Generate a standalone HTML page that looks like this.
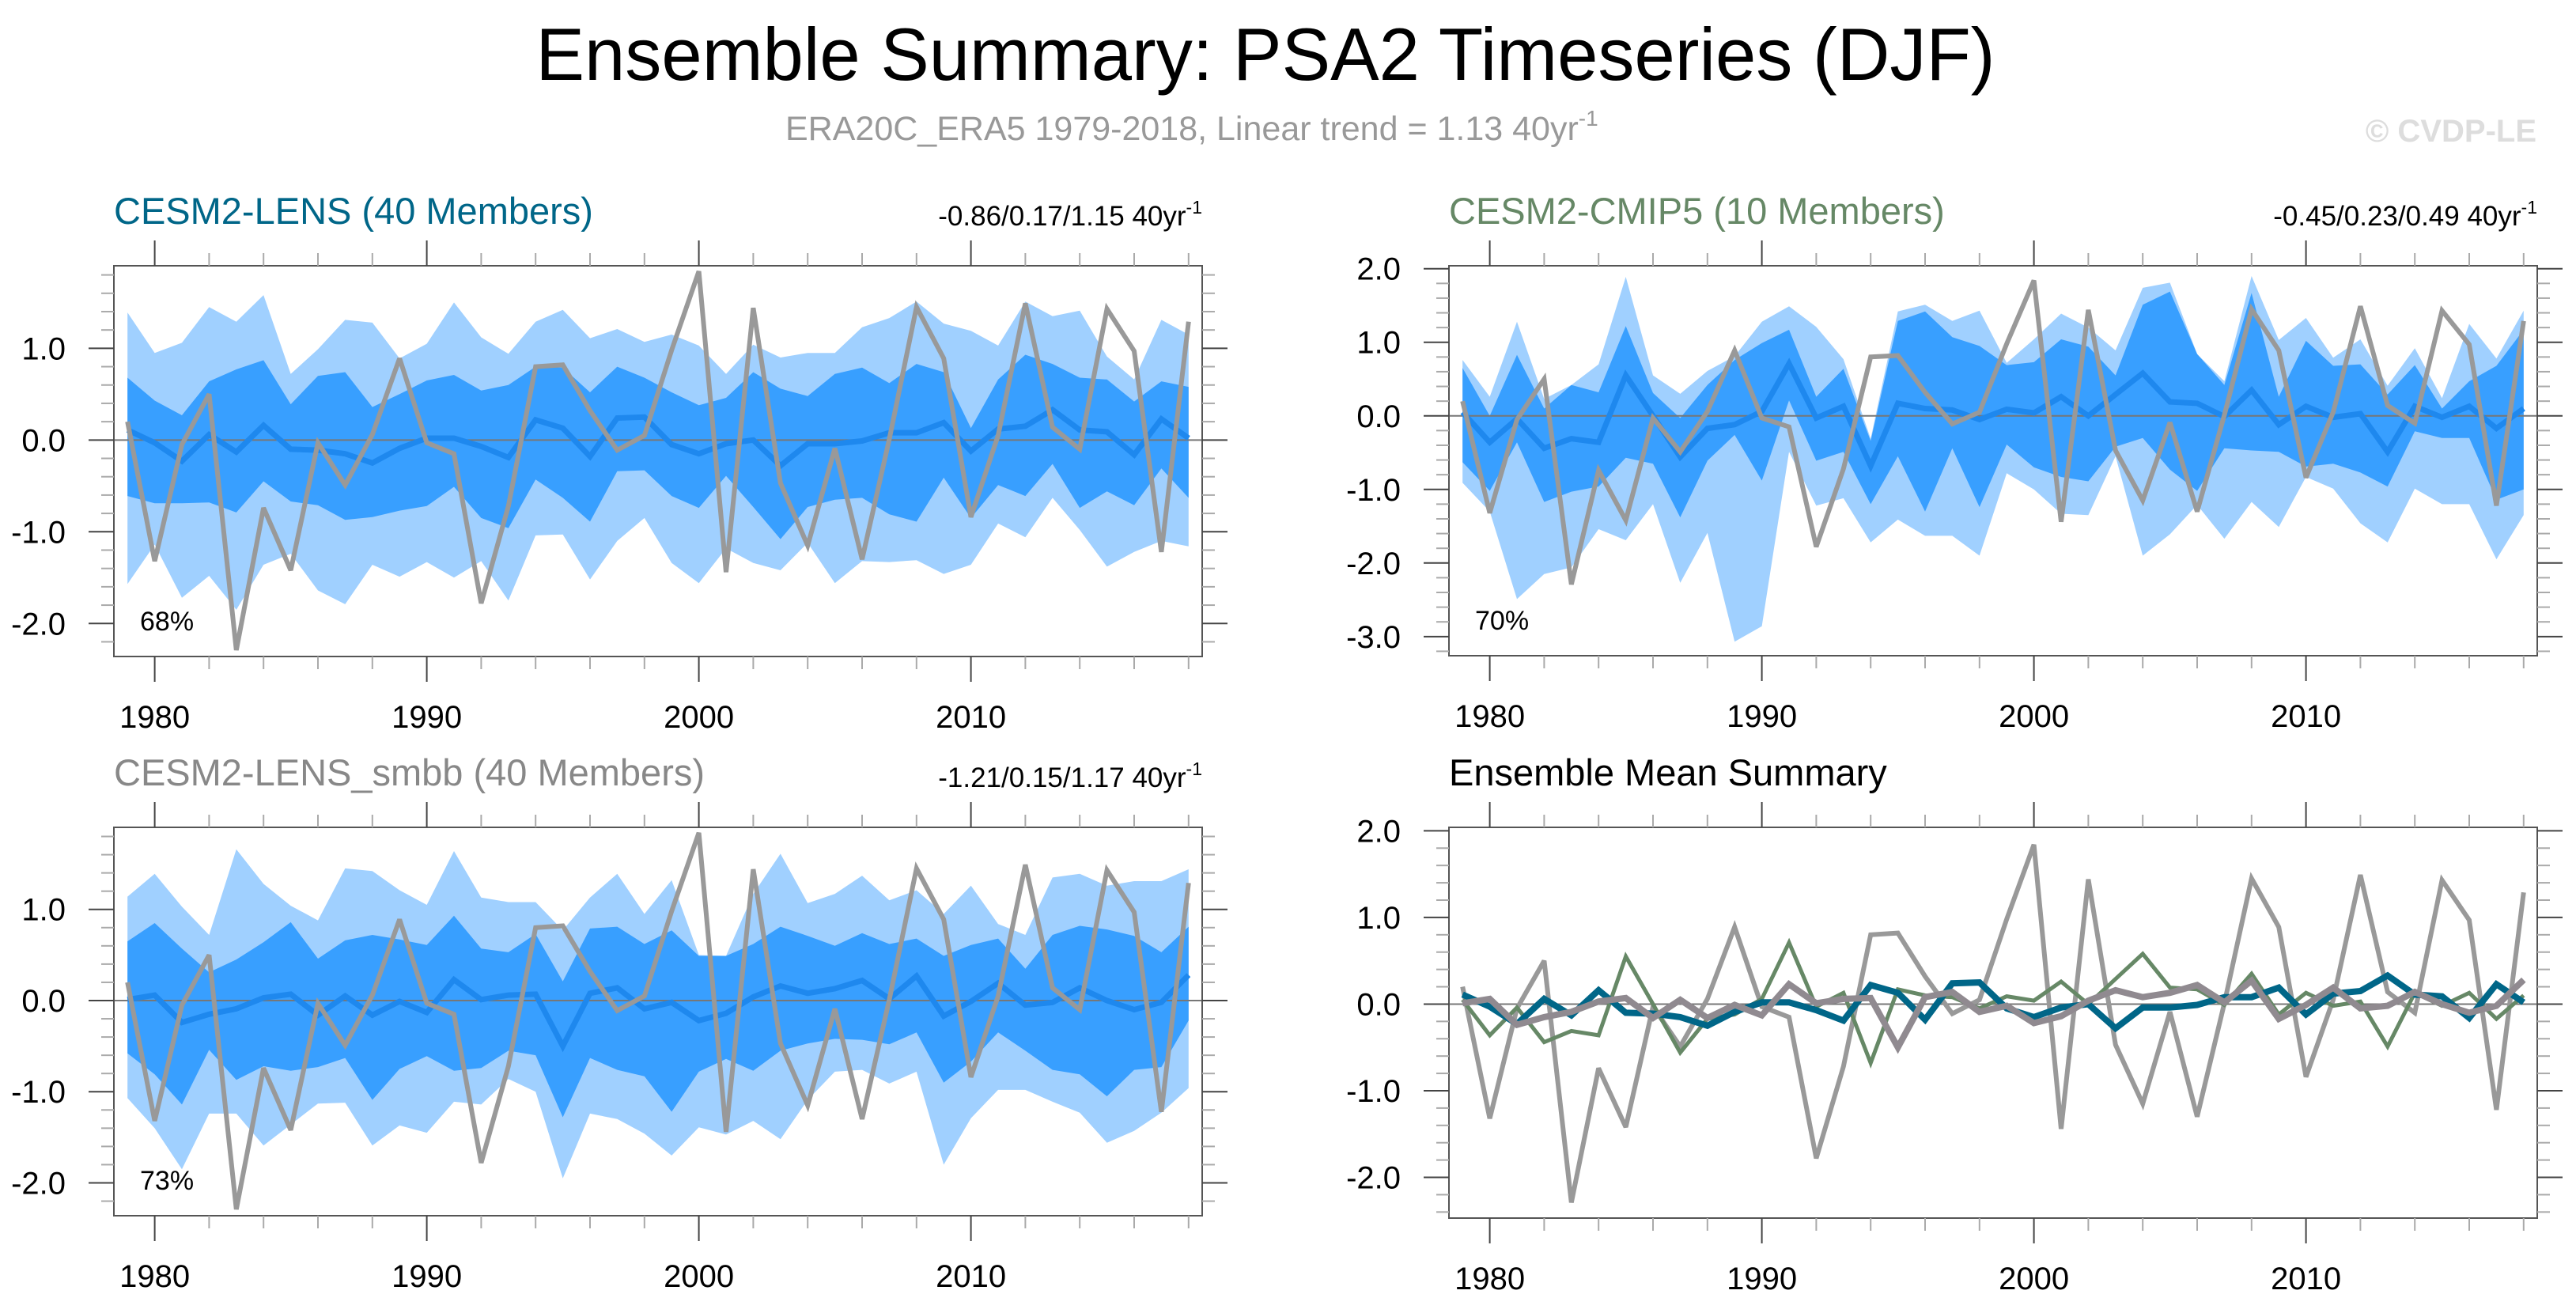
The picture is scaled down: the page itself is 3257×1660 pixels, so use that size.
<!DOCTYPE html>
<html><head><meta charset="utf-8"><style>
html,body{margin:0;padding:0;background:#fff;}
svg{display:block;font-family:"Liberation Sans",sans-serif;}
</style></head><body>
<svg id="fig" width="3257" height="1660" viewBox="0 0 3257 1660" xmlns="http://www.w3.org/2000/svg">
<text x="1600" y="101" font-size="94" text-anchor="middle" textLength="1845" lengthAdjust="spacingAndGlyphs" fill="#000">Ensemble Summary: PSA2 Timeseries (DJF)</text>
<text x="993" y="177" font-size="43" fill="#999">ERA20C_ERA5 1979-2018, Linear trend = 1.13 40yr<tspan font-size="28" dy="-18">-1</tspan></text>
<text x="3207" y="179" font-size="40" font-weight="bold" text-anchor="end" fill="#ddd">© CVDP-LE</text>
</svg>
<script>
const years = [1979,1980,1981,1982,1983,1984,1985,1986,1987,1988,1989,1990,1991,1992,1993,1994,1995,1996,1997,1998,1999,2000,2001,2002,2003,2004,2005,2006,2007,2008,2009,2010,2011,2012,2013,2014,2015,2016,2017,2018];
const obs = [0.2,-1.32,-0.05,0.5,-2.29,-0.74,-1.42,-0.03,-0.49,0.06,0.89,-0.03,-0.15,-1.78,-0.72,0.8,0.82,0.32,-0.11,0.05,0.98,1.84,-1.44,1.44,-0.47,-1.15,-0.09,-1.3,0.01,1.45,0.89,-0.84,0.05,1.49,0.14,-0.1,1.43,0.97,-1.22,1.29];
// CESM2-LENS
const lensMean = [0.11,-0.03,-0.23,0.06,-0.13,0.16,-0.10,-0.11,-0.15,-0.25,-0.09,0.02,0.02,-0.07,-0.19,0.22,0.13,-0.18,0.24,0.25,-0.05,-0.15,-0.04,0.00,-0.28,-0.04,-0.04,-0.01,0.08,0.08,0.19,-0.12,0.12,0.15,0.33,0.11,0.09,-0.16,0.23,0.02];
const lensHi95 = [1.39,0.95,1.06,1.45,1.29,1.58,0.72,0.99,1.31,1.28,0.89,1.05,1.50,1.12,0.94,1.29,1.42,1.11,1.21,1.07,1.15,1.03,0.72,1.04,0.90,0.95,0.95,1.23,1.33,1.51,1.27,1.19,1.03,1.51,1.35,1.41,0.91,0.66,1.31,1.15];
const lensHi68 = [0.68,0.43,0.27,0.64,0.77,0.87,0.39,0.70,0.74,0.36,0.50,0.65,0.71,0.54,0.60,0.80,0.79,0.52,0.80,0.68,0.52,0.38,0.46,0.74,0.56,0.48,0.72,0.79,0.62,0.83,0.74,0.13,0.66,0.93,0.83,0.68,0.66,0.42,0.64,0.58];
const lensLo68 = [-0.61,-0.69,-0.69,-0.68,-0.79,-0.45,-0.67,-0.71,-0.87,-0.84,-0.77,-0.72,-0.51,-0.85,-0.96,-0.43,-0.63,-0.89,-0.34,-0.33,-0.61,-0.74,-0.39,-0.73,-1.08,-0.73,-0.65,-0.63,-0.81,-0.89,-0.41,-0.85,-0.49,-0.61,-0.26,-0.74,-0.56,-0.71,-0.31,-0.63];
const lensLo95 = [-1.57,-1.14,-1.72,-1.48,-1.85,-1.36,-1.24,-1.64,-1.79,-1.36,-1.49,-1.33,-1.50,-1.32,-1.75,-1.04,-1.03,-1.52,-1.10,-0.85,-1.34,-1.56,-1.18,-1.34,-1.42,-1.12,-1.56,-1.32,-1.33,-1.31,-1.46,-1.36,-0.91,-1.06,-0.63,-0.98,-1.38,-1.22,-1.10,-1.16];
// CESM2-CMIP5
const cmipMean = [0.05,-0.36,-0.04,-0.44,-0.31,-0.36,0.55,0.0,-0.56,-0.17,-0.12,0.06,0.71,-0.03,0.13,-0.68,0.17,0.10,0.08,-0.05,0.09,0.04,0.26,0.0,0.29,0.58,0.19,0.17,-0.01,0.35,-0.12,0.13,-0.02,0.03,-0.49,0.13,-0.02,0.13,-0.17,0.10];
const cmipHi95 = [0.76,0.26,1.28,0.23,0.42,0.70,1.89,0.55,0.30,0.61,0.81,1.28,1.49,1.21,0.77,-0.31,1.42,1.51,1.29,1.43,0.72,1.04,1.39,1.20,0.89,1.74,1.81,0.84,0.47,1.90,1.03,1.33,0.79,1.04,0.41,0.92,0.24,1.25,0.78,1.43];
const cmipHi68 = [0.65,0.0,0.83,0.10,0.42,0.32,1.22,0.31,-0.03,0.42,0.76,0.99,1.17,0.26,0.64,-0.34,1.29,1.42,1.07,0.95,0.69,0.73,1.04,0.94,0.55,1.51,1.69,0.84,0.42,1.67,0.26,1.02,0.68,0.70,0.29,0.69,0.10,0.47,0.68,1.17];
const cmipLo68 = [-0.63,-1.02,-0.36,-1.17,-1.03,-0.96,-0.57,-0.65,-1.38,-0.61,-0.26,-0.88,0.21,-0.61,-0.49,-1.20,-0.55,-1.30,-0.44,-1.24,-0.39,-0.70,-0.83,-0.89,-0.42,-0.30,-0.73,-1.02,-0.44,-0.47,-0.49,-0.69,-0.65,-0.77,-0.96,-0.21,-0.30,-0.30,-1.14,-1.00];
const cmipLo95 = [-0.91,-1.30,-2.49,-2.15,-2.06,-1.54,-1.69,-1.20,-2.27,-1.59,-3.07,-2.86,-0.49,-1.22,-1.12,-1.72,-1.41,-1.63,-1.63,-1.90,-0.78,-1.00,-1.33,-1.35,-0.55,-1.90,-1.61,-1.21,-1.67,-1.17,-1.51,-0.83,-0.99,-1.46,-1.72,-0.99,-1.20,-1.20,-1.95,-1.35];
// CESM2-LENS_smbb
const smbbMean = [0.01,0.06,-0.24,-0.15,-0.09,0.03,0.07,-0.16,0.05,-0.16,-0.01,-0.13,0.23,0.01,0.06,0.07,-0.50,0.08,0.14,-0.09,-0.02,-0.22,-0.14,0.04,0.16,0.08,0.13,0.22,0.02,0.27,-0.17,-0.01,0.19,-0.05,-0.02,0.14,0.00,-0.10,-0.02,0.28];
const smbbHi95 = [1.14,1.39,1.03,0.72,1.66,1.28,1.04,0.88,1.45,1.42,1.21,1.05,1.64,1.13,1.08,1.08,0.77,1.13,1.39,0.95,1.32,0.50,0.49,1.17,1.61,1.07,1.17,1.37,1.10,1.21,0.95,1.26,0.84,0.72,1.35,1.39,1.26,1.31,1.31,1.44];
const smbbHi68 = [0.65,0.85,0.57,0.31,0.45,0.64,0.86,0.46,0.66,0.72,0.67,0.61,0.93,0.57,0.53,0.73,0.21,0.79,0.81,0.62,0.77,0.49,0.49,0.62,0.81,0.71,0.60,0.74,0.62,0.68,0.49,0.61,0.68,0.35,0.72,0.82,0.78,0.71,0.53,0.81];
const smbbLo68 = [-0.58,-0.81,-1.14,-0.54,-0.87,-0.72,-0.77,-0.73,-0.63,-1.09,-0.75,-0.61,-0.77,-0.74,-0.55,-0.60,-1.28,-0.63,-0.76,-0.83,-1.22,-0.78,-0.64,-0.77,-0.55,-0.47,-0.42,-0.43,-0.48,-0.35,-0.90,-0.67,-0.35,-0.55,-0.76,-0.81,-1.05,-0.76,-0.73,-0.22];
const smbbLo95 = [-1.07,-1.40,-1.85,-1.24,-1.24,-1.59,-1.36,-1.13,-1.12,-1.59,-1.37,-1.45,-1.11,-1.14,-0.86,-1.00,-1.95,-1.24,-1.30,-1.46,-1.70,-1.39,-1.47,-1.32,-1.52,-1.09,-0.78,-0.76,-0.91,-0.78,-1.80,-1.29,-0.98,-0.98,-1.11,-1.23,-1.56,-1.43,-1.23,-0.96];
const xTickLabels = ["1980","1990","2000","2010"];

const svg = document.getElementById('fig');
const NS = 'http://www.w3.org/2000/svg';
function mk(tag, attrs, parent){
  const e = document.createElementNS(NS, tag);
  for (const k in attrs) e.setAttribute(k, attrs[k]);
  (parent||svg).appendChild(e);
  return e;
}
function panel(cfg){
  const g = mk('g', {});
  
  
  const L=cfg.x, T=cfg.y, W=1376, H=cfg.h;
  const X0=1978.5, X1=2018.5;
  const sx = v => L + (v - X0) / (X1 - X0) * W;
  const sy = v => T + (cfg.ymax - v) / (cfg.ymax - cfg.ymin) * H;
  const band = (hi, lo, color, nm) => {
    let d = '';
    years.forEach((yr,i)=>{ d += (i?'L':'M') + sx(yr).toFixed(1) + ' ' + sy(hi[i]).toFixed(1); });
    for (let i=years.length-1;i>=0;i--) d += 'L' + sx(years[i]).toFixed(1) + ' ' + sy(lo[i]).toFixed(1);
    const p = mk('path', {d: d+'Z', fill: color}, g);
    
    
  };
  const line = (vals, color, w, nm) => {
    const pts = years.map((yr,i)=> sx(yr).toFixed(1)+','+sy(vals[i]).toFixed(1)).join(' ');
    const p = mk('polyline', {points: pts, fill:'none', stroke: color, 'stroke-width': w, 'stroke-linejoin':'miter', 'stroke-miterlimit':'3'}, g);
    
    
  };
  if (cfg.bands){
    band(cfg.bands[0], cfg.bands[3], '#a0d0ff', 'band-95');
    band(cfg.bands[1], cfg.bands[2], '#389fff', 'band-68');
  }
  const z = mk('line', {x1:L, x2:L+W, y1:sy(0), y2:sy(0), stroke:'#777', 'stroke-width':2}, g);
  
  
  cfg.lines.forEach(l => line(l.v, l.c, l.w, l.n));
  const box = mk('rect', {x:L, y:T, width:W, height:H, fill:'none', stroke:'#555', 'stroke-width':2}, g);
  
  
  for (let yr=1980; yr<=2018; yr+=2){
    const major = yr%10===0, len = major?32:16, col = major?'#444':'#aaa';
    mk('line', {x1:sx(yr), x2:sx(yr), y1:T, y2:T-len, stroke:col, 'stroke-width':2}, g);
    mk('line', {x1:sx(yr), x2:sx(yr), y1:T+H, y2:T+H+len, stroke:col, 'stroke-width':2}, g);
  }
  xTickLabels.forEach(lb => {
    const t = mk('text', {x:sx(+lb), y:T+H+90, 'font-size':40, 'text-anchor':'middle', fill:'#000'}, g);
    t.textContent = lb;
    
    
  });
  for (let k=Math.ceil(cfg.ymin*5); k<=Math.floor(cfg.ymax*5); k++){
    const v = k/5, major = k%5===0, len = major?32:16, col = major?'#444':'#aaa';
    mk('line', {x1:L, x2:L-len, y1:sy(v), y2:sy(v), stroke:col, 'stroke-width':2}, g);
    mk('line', {x1:L+W, x2:L+W+len, y1:sy(v), y2:sy(v), stroke:col, 'stroke-width':2}, g);
    if (major){
      const t = mk('text', {x:L-61, y:sy(v)+14, 'font-size':40, 'text-anchor':'end', fill:'#000'}, g);
      t.textContent = (v/1).toFixed(1);
      
      
    }
  }
  const tt = mk('text', {x:L, y:T-53, 'font-size':47, fill:cfg.tcol}, g);
  tt.textContent = cfg.title;
  
  
  if (cfg.trend){
    const tr = mk('text', {x:L+W, y:T-51, 'font-size':35, 'text-anchor':'end', fill:'#000'}, g);
    tr.innerHTML = cfg.trend + ' 40yr<tspan font-size="23" dy="-15">-1</tspan>';
    
    
  }
  if (cfg.pct){
    const pc = mk('text', {x:L+33, y:T+H-33, 'font-size':34, fill:'#000'}, g);
    pc.textContent = cfg.pct;
    
    
  }
}
panel({name:'panel-cesm2-lens', x:144, y:336, h:494, ymin:-2.36, ymax:1.9, title:'CESM2-LENS (40 Members)', tcol:'#006688', trend:'-0.86/0.17/1.15', pct:'68%',
  bands:[lensHi95,lensHi68,lensLo68,lensLo95],
  lines:[{v:lensMean,c:'#1e88ee',w:7,n:'ensemble-mean-line'},{v:obs,c:'#999',w:6,n:'observed-line'}]});
panel({name:'panel-cesm2-cmip5', x:1832, y:336, h:493, ymin:-3.26, ymax:2.04, title:'CESM2-CMIP5 (10 Members)', tcol:'#668866', trend:'-0.45/0.23/0.49', pct:'70%',
  bands:[cmipHi95,cmipHi68,cmipLo68,cmipLo95],
  lines:[{v:cmipMean,c:'#1e88ee',w:7,n:'ensemble-mean-line'},{v:obs,c:'#999',w:6,n:'observed-line'}]});
panel({name:'panel-cesm2-lens-smbb', x:144, y:1046, h:491, ymin:-2.36, ymax:1.9, title:'CESM2-LENS_smbb (40 Members)', tcol:'#888', trend:'-1.21/0.15/1.17', pct:'73%',
  bands:[smbbHi95,smbbHi68,smbbLo68,smbbLo95],
  lines:[{v:smbbMean,c:'#1e88ee',w:7,n:'ensemble-mean-line'},{v:obs,c:'#999',w:6,n:'observed-line'}]});
panel({name:'panel-ensemble-mean-summary', x:1832, y:1046, h:494, ymin:-2.47, ymax:2.04, title:'Ensemble Mean Summary', tcol:'#000',
  lines:[{v:obs,c:'#999',w:6,n:'observed-line'},{v:cmipMean,c:'#668866',w:5,n:'cmip5-mean-line'},{v:lensMean,c:'#006688',w:8,n:'lens-mean-line'},{v:smbbMean,c:'#908a90',w:8,n:'smbb-mean-line'}]});
</script>
</body></html>
